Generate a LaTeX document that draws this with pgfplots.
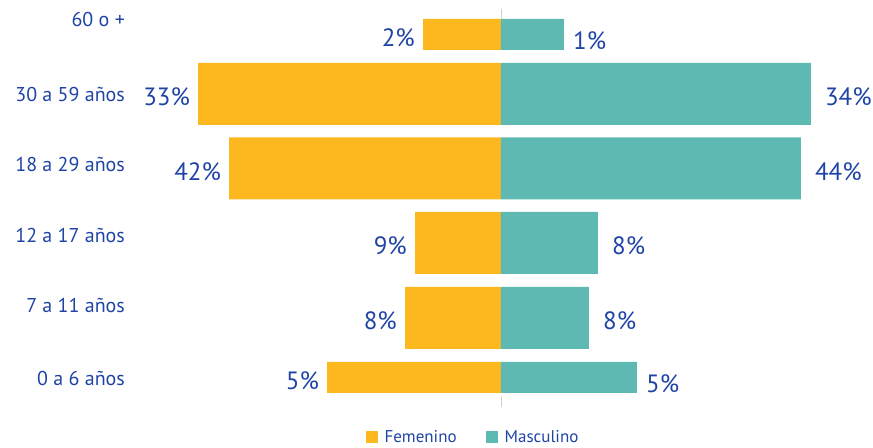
\documentclass[border=0pt]{standalone}
\usepackage{pgfplots}
\pgfplotsset{compat=1.18}
\usepackage{fontspec}
\setmainfont{PT Sans}
\definecolor{fem}{HTML}{FDB71F}
\definecolor{mas}{HTML}{5DB9B2}
\definecolor{txt}{HTML}{1F44A6}
\definecolor{mid}{HTML}{D0D0D0}

\begin{document}
\begin{tikzpicture}
\begin{axis}[
  scale only axis, width=873pt, height=446pt,
  xmin=-501, xmax=372, ymin=-446, ymax=0,
  clip=false,
  axis line style={draw=none}, major tick length=0pt,
  xtick=\empty,
  ytick={-19.5,-95,-165,-236,-306,-379},
  yticklabels={60 o +,30 a 59 años,18 a 29 años,12 a 17 años,7 a 11 años,0 a 6 años},
  yticklabel style={anchor=east, inner sep=0pt, xshift=125pt, font=\fontsize{20}{22}\selectfont, text=txt},
  xbar, bar shift=0pt,
  point meta=explicit symbolic,
  nodes near coords,
  every node near coord/.append style={font=\fontsize{25}{27}\selectfont, text=txt, inner sep=0pt, yshift=-3pt},
  legend columns=2,
  legend style={draw=none, fill=none, at={(axis cs:-28,-437)}, anchor=center,
    font=\fontsize{17}{19}\selectfont, text=txt,
    /tikz/every odd column/.append style={column sep=5pt},
    /tikz/every even column/.append style={column sep=27pt}},
  legend image code/.code={\fill[#1] (0pt,-6pt) rectangle (12pt,6pt);},
]
% Femenino (bar lengths as drawn)
\addplot[fill=fem, draw=none, bar width=62,
  every node near coord/.append style={anchor=east, xshift=-8pt}]
  coordinates {(-303,-94) [33\%] (-272,-168.5) [42\%] (-86,-243) [9\%] (-96,-318) [8\%]};
\addlegendentry{Femenino}
% Masculino
\addplot[fill=mas, draw=none, bar width=62,
  every node near coord/.append style={anchor=west, xshift=14pt}]
  coordinates {(310,-94) [34\%] (300,-168.5) [44\%] (97,-243) [8\%] (88,-318) [8\%]};
\addlegendentry{Masculino}
% thin bars at top and bottom
\addplot[fill=fem, draw=none, bar width=31, forget plot,
  every node near coord/.append style={anchor=east, xshift=-8pt}]
  coordinates {(-78,-34.5) [2\%] (-174,-377.5) [5\%]};
\addplot[fill=mas, draw=none, bar width=31, forget plot,
  every node near coord/.append style={anchor=west, xshift=9pt, yshift=-3pt}]
  coordinates {(63,-34.5) [1\%] (136,-377.5) [5\%]};
% centre line
\addplot[mid, thin, no marks, xbar=0pt, forget plot, nodes near coords={}] coordinates {(0,-14) (0,-402)};
\end{axis}
\end{tikzpicture}
\end{document}
